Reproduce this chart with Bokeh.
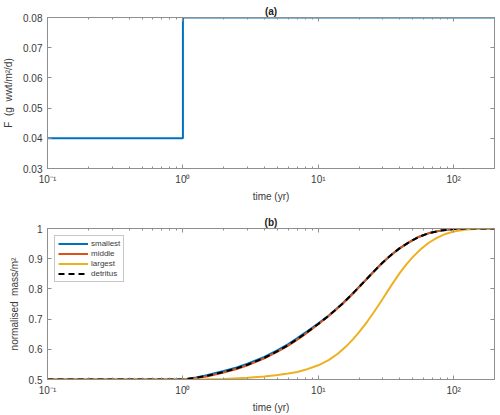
from bokeh.plotting import figure
from bokeh.layouts import column
from bokeh.models import (LogAxis, LinearAxis, FixedTicker, Legend, LegendItem,
                          Range1d)
from bokeh.embed import file_html
from bokeh.resources import INLINE

# ---- data ----
# (a) forcing flux
time_F = [0.1, 1.0, 200.0]
flux_F = [0.04, 0.08, 0.08]

# (b) normalised mass per size class
time_b = [0.1, 1, 1.25, 1.5, 2, 2.5, 3, 4, 5, 6, 7, 8, 10, 12, 15, 18, 22,
          26, 30, 35, 40, 47, 55, 65, 80, 100, 130, 200]
smallest = [0.5, 0.5, 0.507, 0.514, 0.528, 0.540, 0.552, 0.575, 0.597, 0.617,
            0.637, 0.655, 0.686, 0.713, 0.751, 0.786, 0.826, 0.860, 0.888,
            0.915, 0.935, 0.955, 0.972, 0.984, 0.993, 0.998, 1.0, 1.0]
middle = [0.5, 0.5, 0.505, 0.510, 0.523, 0.535, 0.547, 0.570, 0.592, 0.612,
          0.632, 0.650, 0.683, 0.711, 0.749, 0.784, 0.825, 0.860, 0.888,
          0.915, 0.935, 0.955, 0.972, 0.984, 0.993, 0.998, 1.0, 1.0]
detritus = [0.5, 0.5, 0.506, 0.512, 0.525, 0.537, 0.549, 0.572, 0.594, 0.614,
            0.634, 0.652, 0.684, 0.712, 0.750, 0.785, 0.826, 0.860, 0.888,
            0.915, 0.935, 0.955, 0.972, 0.984, 0.993, 0.998, 1.0, 1.0]
time_large = [0.1, 1, 1.5, 2, 3, 4, 5, 6, 7, 8, 10, 12, 14, 16, 18, 20, 23,
              26, 30, 35, 40, 45, 50, 57, 65, 75, 87, 100, 120, 150, 200]
largest = [0.5, 0.5, 0.501, 0.502, 0.506, 0.510, 0.515, 0.520, 0.525, 0.532,
           0.547, 0.565, 0.586, 0.609, 0.633, 0.657, 0.692, 0.726, 0.768,
           0.815, 0.853, 0.883, 0.906, 0.931, 0.952, 0.969, 0.982, 0.990,
           0.996, 0.999, 1.0]

x_major = [0.1, 1, 10, 100]
x_minor = [0.2, 0.3, 0.4, 0.5, 0.6, 0.7, 0.8, 0.9,
           2, 3, 4, 5, 6, 7, 8, 9, 20, 30, 40, 50, 60, 70, 80, 90, 200]
x_labels = {0.1: "10⁻¹", 1: "10⁰", 10: "10¹", 100: "10²"}

BLUE, ORANGE, YELLOW = "#0072BD", "#D95319", "#EDB120"
TEXT, AXIS = "#3a3a3a", "#8f8f8f"
FONT = "Liberation Sans"
NB = "\u00a0"


def style_axis(ax, show_labels=True):
    ax.axis_line_color = AXIS
    ax.major_tick_line_color = AXIS
    ax.minor_tick_line_color = AXIS
    ax.major_tick_in = 4
    ax.major_tick_out = 0
    ax.minor_tick_in = 2
    ax.minor_tick_out = 0
    ax.major_label_text_font = FONT
    ax.major_label_text_font_size = "10px"
    ax.major_label_text_color = TEXT
    ax.axis_label_text_font = FONT
    ax.axis_label_text_font_size = "10px"
    ax.axis_label_text_color = TEXT
    ax.axis_label_text_font_style = "normal"
    if not show_labels:
        # mirrored box axis: ticks only
        ax.major_label_text_font_size = "1px"
        ax.major_label_text_alpha = 0
        ax.major_label_standoff = 0


def make_panel(title, y_lo, y_hi, y_ticks, y_labels, ylabel, height, top, bottom):
    p = figure(width=500, height=height, x_axis_type="log",
               x_range=Range1d(0.1, 200), y_range=Range1d(y_lo, y_hi),
               output_backend="svg", toolbar_location=None,
               min_border_left=44, min_border_right=6,
               min_border_top=top, min_border_bottom=bottom)
    p.title.text = title
    p.title.align = "center"
    p.title.text_font = FONT
    p.title.text_font_size = "10px"
    p.title.text_font_style = "bold"
    p.title.text_color = "#222222"
    p.title.standoff = 2
    p.grid.visible = False
    p.outline_line_color = AXIS

    xa = p.xaxis[0]
    xa.ticker = FixedTicker(ticks=x_major, minor_ticks=x_minor)
    xa.major_label_overrides = x_labels
    xa.axis_label = "time (yr)"
    style_axis(xa)
    xa.axis_label_standoff = 3

    ya = p.yaxis[0]
    ya.ticker = FixedTicker(ticks=y_ticks)
    if y_labels:
        ya.major_label_overrides = y_labels
    ya.axis_label = ylabel
    style_axis(ya)
    ya.axis_label_standoff = 6

    top_ax = LogAxis(ticker=FixedTicker(ticks=x_major, minor_ticks=x_minor))
    style_axis(top_ax, show_labels=False)
    p.add_layout(top_ax, "above")
    right_ax = LinearAxis(ticker=FixedTicker(ticks=y_ticks))
    style_axis(right_ax, show_labels=False)
    p.add_layout(right_ax, "right")
    return p


pa = make_panel("(a)", 0.03, 0.08, [0.03, 0.04, 0.05, 0.06, 0.07, 0.08],
                None, f"F{NB}{NB}(g{NB}{NB}wwt/m²/d)", 207, 17, 39)
pa.step(time_F, flux_F, mode="after", line_color=BLUE, line_width=2)

yb_ticks = [0.5, 0.6, 0.7, 0.8, 0.9, 1.0]
pb = make_panel("(b)", 0.5, 1.0, yb_ticks, {1: "1"},
                f"normalised{NB}{NB}mass/m²", 208, 21, 35)
r_s = pb.line(time_b, smallest, line_color=BLUE, line_width=2)
r_m = pb.line(time_b, middle, line_color=ORANGE, line_width=2)
r_l = pb.line(time_large, largest, line_color=YELLOW, line_width=2)
r_d = pb.line(time_b, detritus, line_color="black", line_width=2,
              line_dash="6 4")

legend = Legend(items=[LegendItem(label="smallest", renderers=[r_s]),
                       LegendItem(label="middle", renderers=[r_m]),
                       LegendItem(label="largest", renderers=[r_l]),
                       LegendItem(label="detritus", renderers=[r_d])],
                location="top_left")
legend.label_text_font = FONT
legend.label_text_font_size = "8px"
legend.label_text_color = TEXT
legend.label_height = 9
legend.label_standoff = 3
legend.glyph_height = 9
legend.glyph_width = 30
legend.spacing = 1
legend.padding = 3
legend.margin = 7
legend.border_line_color = AXIS
legend.background_fill_alpha = 1
pb.add_layout(legend)

layout = column(pa, pb, spacing=0)
open("out.html", "w").write(file_html(layout, INLINE))
